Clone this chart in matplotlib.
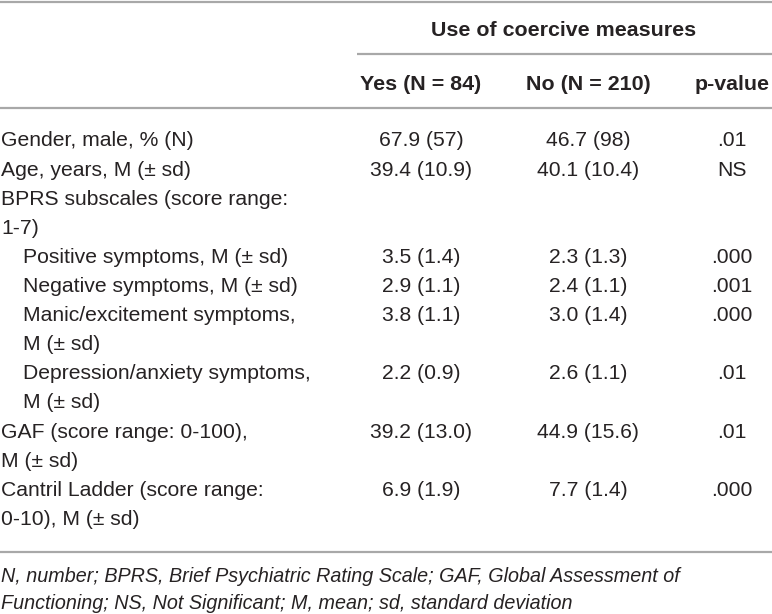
import matplotlib

matplotlib.use("Agg")
import matplotlib.pyplot as plt

# table content
group_header = "Use of coercive measures"
col_headers = ["Yes (N = 84)", "No (N = 210)", "p-value"]
row_labels = [
    "Gender, male, % (N)",
    "Age, years, M (\u00b1 sd)",
    "BPRS subscales (score range:\n1-7)",
    "Positive symptoms, M (\u00b1 sd)",
    "Negative symptoms, M (\u00b1 sd)",
    "Manic/excitement symptoms,\nM (\u00b1 sd)",
    "Depression/anxiety symptoms,\nM (\u00b1 sd)",
    "GAF (score range: 0-100),\nM (\u00b1 sd)",
    "Cantril Ladder (score range:\n0-10), M (\u00b1 sd)",
]
row_indent = [False, False, False, True, True, True, True, False, False]
yes_vals = ["67.9 (57)", "39.4 (10.9)", "", "3.5 (1.4)", "2.9 (1.1)", "3.8 (1.1)",
            "2.2 (0.9)", "39.2 (13.0)", "6.9 (1.9)"]
no_vals = ["46.7 (98)", "40.1 (10.4)", "", "2.3 (1.3)", "2.4 (1.1)", "3.0 (1.4)",
           "2.6 (1.1)", "44.9 (15.6)", "7.7 (1.4)"]
p_vals = [".01", "NS", "", ".000", ".001", ".000", ".01", ".01", ".000"]
footnote = ("N, number; BPRS, Brief Psychiatric Rating Scale; GAF, Global Assessment of\n"
            "Functioning; NS, Not Significant; M, mean; sd, standard deviation")

TEXT = "#262223"
RULE = "#a8a8a8"
FONT = "Liberation Sans"
FS = 15.2

W, H = 772, 614
fig = plt.figure(figsize=(W / 100, H / 100), dpi=100)
ax = fig.add_axes([0, 0, 1, 1])
ax.set_xlim(0, W)
ax.set_ylim(H, 0)
ax.axis("off")

col_x = [421, 588, 732]
pitch = 29.1
first_y = 139

# rules
for x0, y in [(0, 1.5), (357, 54), (0, 108), (0, 552)]:
    ax.plot([x0, W], [y, y], color=RULE, lw=1.6, solid_capstyle="butt")

ax.text(564, 28, group_header, ha="center", va="center_baseline", fontsize=15.4,
        fontweight="bold", color=TEXT, family=FONT)
for x, h in zip(col_x, col_headers):
    ax.text(x, 83, h, ha="center", va="center_baseline", fontsize=15.4,
            fontweight="bold", color=TEXT, family=FONT)

line_idx = 0
for label, indent, yv, nv, pv in zip(row_labels, row_indent, yes_vals, no_vals, p_vals):
    y = first_y + line_idx * pitch
    x0 = 23 if indent else 1
    parts = label.split("\n")
    for k, part in enumerate(parts):
        ax.text(x0, y + k * pitch, part, ha="left", va="center_baseline", fontsize=FS,
                color=TEXT, family=FONT)
    for x, v in zip(col_x, [yv, nv, pv]):
        ax.text(x, y, v, ha="center", va="center_baseline", fontsize=FS,
                color=TEXT, family=FONT)
    line_idx += len(parts)

for k, part in enumerate(footnote.split("\n")):
    ax.text(1, 575 + k * 26.5, part, ha="left", va="center_baseline", fontsize=14.2,
            style="italic", color=TEXT, family=FONT)

fig.savefig("out.png", dpi=100, facecolor="white")
